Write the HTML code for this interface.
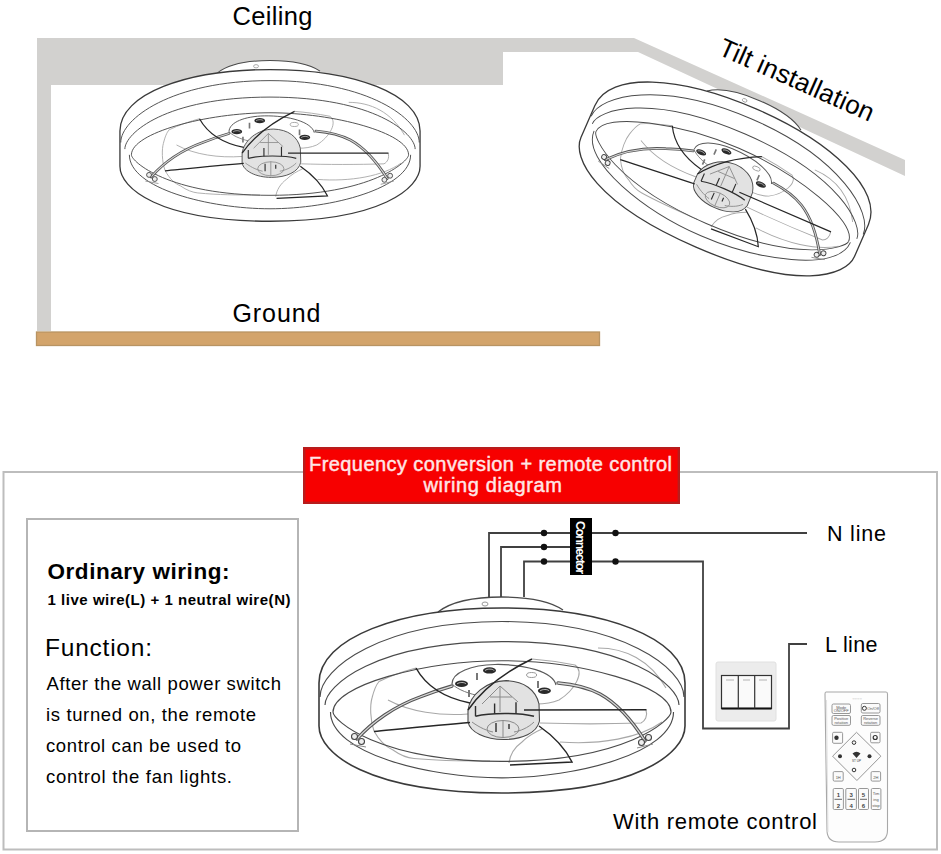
<!DOCTYPE html>
<html><head><meta charset="utf-8">
<style>
html,body{margin:0;padding:0;background:#fff;width:941px;height:854px;overflow:hidden}
svg{display:block}
text{font-family:"Liberation Sans",sans-serif}
</style></head>
<body>
<svg width="941" height="854" viewBox="0 0 941 854">
<defs>
<g id="fan">
<path d="M319,683 C319,638 399.5,608 502,608 C604.5,608 685,638 685,683 L685,726 C685,752.8 637.4,793 502,793 C366.6,793 319,752.8 319,726 Z" fill="#fff" stroke="none"/>
<path d="M438,612 C452,601 476,597 502,597 C528,597 550,601 563,610 Z" fill="#fff" stroke="none"/>
<path d="M438,612 C452,601 476,597 502,597 C528,597 550,601 563,610" fill="none" stroke="#4a4a4a" stroke-width="1.3"/>
<ellipse cx="485" cy="604" rx="3" ry="2" fill="none" stroke="#999" stroke-width="1"/>
<!-- faint blade outlines -->
<g fill="none" stroke="#a8a8a8" stroke-width="1.1">
<path d="M374,731 C370,720 370,705 372,698 C374,690 376,685 379,681.5 C390,676 405,671 416,668"/>
<path d="M374,731 C380,742 386,747 393,750 C400,755 408,758 414,758.5 C440,761 460,761 490,761"/>
<path d="M509,763 C510,755 515,747 522,742 C528,736 535,732 542,729"/>
<path d="M646,710 C648,716 645,721 641,723 C610,724 570,724 540,723"/>
<path d="M532,659 C545,660 560,662 575,665 C585,672 575,690 559,700 C552,703 545,704 536,704"/>
<path d="M388,700 C410,712 440,716 468,714"/>
<path d="M560,742 C600,745 640,738 662,722"/>
<path d="M598,648 C625,648 650,660 666,688"/>
</g>
<!-- ring lines -->
<g fill="none" stroke="#3a3a3a" stroke-width="1.6">
<path d="M319,683 C319,638 399.5,608 502,608 C604.5,608 685,638 685,683 L685,726 C685,752.8 637.4,793 502,793 C366.6,793 319,752.8 319,726 Z"/>
</g>
<g fill="none" stroke="#4a4a4a" stroke-width="1.15">
<path d="M320,697 C320,668.3 381.9,621.5 502,621.5 C622.1,621.5 684,668.3 684,697"/>
<path d="M325,705 C325,686 374.6,641.6 502,641.6 C629.4,641.6 679,686 679,705"/>
<path d="M333,712 C333,685.3 424.3,660.7 502,660.7 C579.7,660.7 671,685.3 671,712"/>
<path d="M333,712 C333,720 378,761.4 502,761.4 C626,761.4 671,720 671,712"/>
<path d="M330.5,712 C330.5,753 428,777.8 502,777.8 C576,777.8 673.5,753 673.5,712"/>
</g>
<!-- rods -->
<g fill="none" stroke-linecap="round">
<path d="M357,739 C372,722 395,706 420,697 C435,691 445,688 452,686" stroke="#555" stroke-width="3.4"/>
<path d="M357,739 C372,722 395,706 420,697 C435,691 445,688 452,686" stroke="#d8d8d8" stroke-width="1.3"/>
<path d="M645,741 C635,725 620,705 600,694 C585,686 570,684 558,683" stroke="#555" stroke-width="3.4"/>
<path d="M645,741 C635,725 620,705 600,694 C585,686 570,684 558,683" stroke="#d8d8d8" stroke-width="1.3"/>
</g>
<g fill="#eee" stroke="#444" stroke-width="1.1">
<circle cx="354.5" cy="736.5" r="3"/><circle cx="361.5" cy="741.5" r="3"/>
<circle cx="641.5" cy="742.5" r="3"/><circle cx="648.5" cy="737.5" r="3"/>
</g>
<path d="M350,744 L366,747 M637,748 L653,744" stroke="#888" stroke-width="1" fill="none"/>
<!-- motor plate -->
<path d="M452,684 C452,672 472,665 495,664.5 C525,664 553,672 556,685" fill="none" stroke="#5a5a5a" stroke-width="1.2"/>
<path d="M452,684 C458,690 470,694 480,696" fill="none" stroke="#777" stroke-width="1"/>
<g fill="#2a2a2a">
<ellipse cx="461.5" cy="683.8" rx="6.5" ry="3.2"/><ellipse cx="489.5" cy="670.4" rx="6.5" ry="3.2"/>
<ellipse cx="544.4" cy="690.8" rx="6.5" ry="3.2"/>
</g>
<g fill="none" stroke="#ddd" stroke-width="0.8"><path d="M457,684 C459,682 465,682 466,684"/><path d="M485,670.6 C487,668.6 493,668.6 494,670.6"/><path d="M540,691 C542,689 548,689 549,691"/></g>
<ellipse cx="531.6" cy="675" rx="5" ry="2.5" fill="none" stroke="#999" stroke-width="1"/>
<path d="M477,673 L477,680 M469,690 L469,697 M538,681 L538,688" stroke="#777" stroke-width="2"/>
<!-- hub / light cover -->
<path d="M468,710 C470,695 486,681 506,680.6 C524,681 536,690 539,704 L539.5,721 C537,733 522,739.5 503.6,739.5 C485,739.5 470,732 468,722 Z" fill="#e2e2e2" stroke="#4a4a4a" stroke-width="1.1"/>
<g fill="none" stroke="#8a8a8a" stroke-width="1">
<path d="M482,704 L500,686 L518,702 M490,697 L512,697 M500,686 L500,712"/>
<ellipse cx="503" cy="729" rx="16" ry="8.5"/>
<path d="M472,722 C480,728 488,731 493,732 M534,722 C528,728 520,731 514,732 M503,720 L503,738"/>
</g>
<g fill="none" stroke="#2e2e2e" stroke-width="1.4">
<path d="M475.5,716.3 C490,712.5 520,712.5 534,716.3"/>
<path d="M475.5,706 L475.5,716.3 M494.6,703.6 L494.6,713.8 M516,702.3 L516,713.8"/>
<path d="M496,723 L496,732 M509,724 L509,729"/>
</g>
<!-- dark blade edges -->
<g fill="none" stroke="#262626" stroke-width="1.5">
<path d="M416,668 C426,686 445,698 470,703"/>
<path d="M468,710 C482,690 505,672 532,659"/>
<path d="M524,710 L646.5,709.8"/>
<path d="M374,731.5 C400,729 440,725 470,722.5"/>
<path d="M539,726 C552,735 565,748 572,762 L510,765"/>
</g>
</g>
</defs>
<!-- ceiling / wall -->
<path d="M37,38 L634,38 L905,160 L905,176 L638,52 L503,52 L503,85 L51,85 L51,331 L37,331 Z" fill="#d2d1cf"/>
<!-- ground -->
<rect x="36.5" y="332" width="563" height="13.5" fill="#d3a46b" stroke="#b89463" stroke-width="1.3"/>

<!-- fans placeholder -->
<g id="fans">
<use href="#fan" transform="translate(270,72) scale(0.82) translate(-502,-611)"/>
<use href="#fan" transform="translate(726,178) rotate(23.5) scale(0.815) translate(-502,-700.5)"/>
<use href="#fan"/>
</g>

<!-- top texts -->
<text x="232.5" y="25.3" font-size="25.5" textLength="80" lengthAdjust="spacing" fill="#000">Ceiling</text>
<text x="232.5" y="321.6" font-size="25" textLength="88" lengthAdjust="spacing" fill="#000">Ground</text>
<text x="0" y="0" font-size="26" transform="translate(717,54) rotate(24)" textLength="167" lengthAdjust="spacing" fill="#000">Tilt installation</text>

<!-- bottom frame -->
<rect x="3.5" y="472" width="933.5" height="377.5" fill="none" stroke="#bdbdbd" stroke-width="2"/>
<rect x="27" y="519" width="271" height="312" fill="none" stroke="#b5b5b5" stroke-width="2"/>

<!-- red banner -->
<rect x="304.2" y="448.2" width="374.6" height="54.6" fill="#f70000" stroke="#b81c1c" stroke-width="2.4"/>
<text x="309" y="471" font-size="20" textLength="363" lengthAdjust="spacing" fill="#ffe6e6" stroke="#ffe6e6" stroke-width="0.45">Frequency conversion + remote control</text>
<text x="423.5" y="492" font-size="20" textLength="138.5" lengthAdjust="spacing" fill="#ffe6e6" stroke="#ffe6e6" stroke-width="0.45">wiring diagram</text>

<!-- left box texts -->
<text x="47.5" y="579" font-size="22.5" font-weight="bold" textLength="182" lengthAdjust="spacing">Ordinary wiring:</text>
<text x="47.5" y="605" font-size="15" font-weight="bold" textLength="243" lengthAdjust="spacing">1 live wire(L) + 1 neutral wire(N)</text>
<text x="45" y="656" font-size="24.5" textLength="107" lengthAdjust="spacing">Function:</text>
<text x="46.5" y="689.5" font-size="18.5" textLength="234.5" lengthAdjust="spacing">After the wall power switch</text>
<text x="46" y="720.5" font-size="18.5" textLength="210" lengthAdjust="spacing">is turned on, the remote</text>
<text x="46" y="751.5" font-size="18.5" textLength="195" lengthAdjust="spacing">control can be used to</text>
<text x="46" y="782.5" font-size="18.5" textLength="186" lengthAdjust="spacing">control the fan lights.</text>

<!-- wiring -->
<g fill="none" stroke="#404040" stroke-width="1.8">
<path d="M489,597 L489,533 L807,533"/>
<path d="M501,597 L501,547 L570,547"/>
<path d="M524,597 L524,561.5 L703,561.5 L703,728.5 L789,728.5 L789,644 L807,644"/>
</g>
<g fill="#111">
<circle cx="544" cy="533" r="3.2"/><circle cx="544" cy="547" r="3.2"/><circle cx="544" cy="561.5" r="3.2"/>
<circle cx="615.5" cy="533" r="3.2"/><circle cx="615.5" cy="561.5" r="3.2"/>
</g>
<rect x="570" y="518" width="22" height="57" fill="#000"/>
<text x="0" y="0" font-size="12.5" font-weight="bold" fill="#fff" transform="translate(576,521) rotate(90)" textLength="53" lengthAdjust="spacing">Connector</text>

<text x="827" y="541" font-size="21.5" textLength="59" lengthAdjust="spacing">N line</text>
<text x="825" y="651.5" font-size="21.5" textLength="52.5" lengthAdjust="spacing">L line</text>
<text x="613" y="829" font-size="22" textLength="204" lengthAdjust="spacing">With remote control</text>

<!-- switch -->
<rect x="716" y="662" width="60" height="59" rx="2" fill="#ececec" stroke="#e0e0e0" stroke-width="1"/>
<rect x="721.5" y="675.5" width="50" height="33" fill="#fafafa" stroke="#333" stroke-width="1.2"/>
<line x1="721.5" y1="708.5" x2="771.5" y2="708.5" stroke="#111" stroke-width="1.8"/>
<line x1="738.3" y1="675.5" x2="738.3" y2="708.5" stroke="#333" stroke-width="1.2"/>
<line x1="754.7" y1="675.5" x2="754.7" y2="708.5" stroke="#333" stroke-width="1.2"/>
<path d="M726,680 L734,680 M743,680 L750,680 M759,680 L767,680" stroke="#aaa" stroke-width="0.9"/>

<!-- remote placeholder -->
<g id="remote">
<path d="M826,692 L886,692 Q887.5,692 887.5,694 L887.5,830 Q887.5,842 875,842 L839,842 Q827,842 827,830 L825,694 Q825,692 826,692 Z" fill="#fdfdfd" stroke="#a8a8a8" stroke-width="1.1"/>
<path d="M826.5,700 L828,832" stroke="#e2e2e2" stroke-width="1" fill="none"/>
<text x="857" y="700" font-size="4" fill="#aaa" text-anchor="middle">○○○○</text>
<g fill="#fbfbfb" stroke="#8c8c8c" stroke-width="0.9">
<rect x="832" y="704" width="18.5" height="9.5" rx="1.5"/>
<rect x="861.3" y="703.5" width="18.7" height="9.5" rx="1.5"/>
<rect x="832" y="715.5" width="18.5" height="9.8" rx="1.5"/>
<rect x="861.3" y="715.5" width="18.7" height="9.8" rx="1.5"/>
<rect x="832.6" y="732.3" width="10" height="11" rx="1.2"/>
<rect x="870.6" y="732.3" width="9.4" height="10.5" rx="1.2"/>
<path d="M856.5,732.3 L880.9,756.2 L856.9,780.5 L832.6,756.2 Z"/>
<rect x="833.2" y="771.6" width="10" height="9.5" rx="1.2"/>
<rect x="871.1" y="771.6" width="9.5" height="9.5" rx="1.2"/>
<rect x="833.2" y="788.5" width="10.2" height="21" rx="1.2"/>
<rect x="845.8" y="788.5" width="10.6" height="21" rx="1.2"/>
<rect x="858.5" y="788.5" width="10" height="21" rx="1.2"/>
<rect x="871.3" y="788.5" width="9.6" height="21" rx="1.2"/>
</g>
<g stroke="#555" stroke-width="0.9" fill="none">
<path d="M834.5,799.3 L842,799.3 M847.5,799.3 L855,799.3 M860,799.3 L867,799.3"/>
</g>
<g font-size="4" fill="#555" text-anchor="middle">
<text x="841.2" y="708.5">Mode</text><text x="841.2" y="712">ON/OFF</text>
<text x="873" y="710.2">On/Off</text>
<text x="841.2" y="720">Positive</text><text x="841.2" y="724">rotation</text>
<text x="870.6" y="720">Reverse</text><text x="870.6" y="724">rotation</text>
<text x="838.2" y="778.5">1H</text><text x="875.8" y="778.5">2H</text>
<text x="876" y="795">Tim</text><text x="876" y="801">ing</text><text x="876" y="807">stop</text>
</g>
<g font-size="6" font-weight="bold" fill="#444" text-anchor="middle">
<text x="838.3" y="797">1</text><text x="838.3" y="807.5">2</text>
<text x="851.1" y="797">3</text><text x="851.1" y="807.5">4</text>
<text x="863.5" y="797">5</text><text x="863.5" y="807.5">6</text>
</g>
<g fill="#333">
<circle cx="864.4" cy="708.3" r="2" fill="none" stroke="#333" stroke-width="1"/>
<circle cx="836.5" cy="737.8" r="2.2"/><circle cx="875.2" cy="737.5" r="2" fill="none" stroke="#333" stroke-width="1.2"/>
<circle cx="854" cy="742.6" r="1.8" fill="none" stroke="#333" stroke-width="1"/>
<circle cx="854" cy="770" r="1.8" fill="none" stroke="#333" stroke-width="1"/>
<circle cx="840" cy="756.2" r="2"/><circle cx="869.5" cy="756.2" r="2"/>
<path d="M852.5,753.5 Q856.5,750 860.5,753.5 L856.5,758 Z"/>
<text x="856.5" y="762" font-size="3" text-anchor="middle">ST UP</text>
</g>
</g>
</svg>
</body></html>
